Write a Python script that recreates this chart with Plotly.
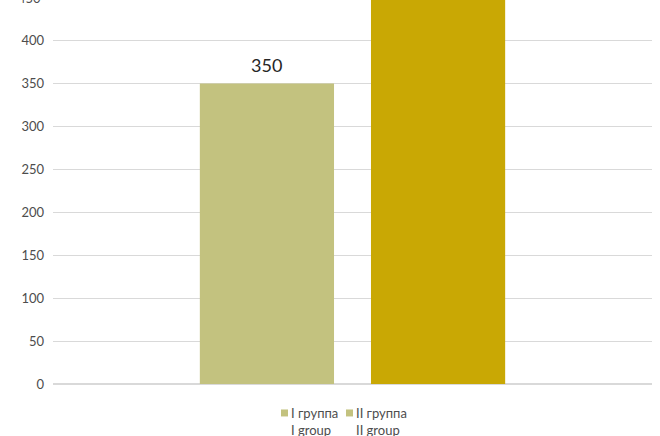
import plotly.graph_objects as go

categories = ["I группа", "II группа"]
legend_labels = ["I группа<br>I group", "II группа<br>II group"]
values = [350, 490]
bar_colors = ["#C3C27F", "#C9A804"]
legend_color = "#C3C27F"
y_ticks = [0, 50, 100, 150, 200, 250, 300, 350, 400, 450]

FONT = "Lato, Calibri, Carlito, sans-serif"
TXT = "#4D4D4D"

fig = go.Figure()
fig.add_trace(go.Bar(
    x=categories, y=values,
    marker=dict(color=bar_colors, line=dict(width=0)),
    width=0.784, showlegend=False, hoverinfo="skip",
))

# value label for the visible bar
fig.add_annotation(x=categories[0], y=values[0], text=str(values[0]),
                   showarrow=False, yanchor="bottom", yshift=5,
                   font=dict(family=FONT, size=18, color="#262626"))

# partially visible top tick label (beyond the visible range)
fig.add_annotation(xref="paper", yref="paper", x=0, y=1.0065, text=str(y_ticks[-1]),
                   showarrow=False, xanchor="right", yanchor="middle", xshift=-10,
                   font=dict(family=FONT, size=13, color=TXT))

# custom legend (symbol aligned with first text line)
leg_x = [281, 346]
for lx, lab in zip(leg_x, legend_labels):
    fig.add_shape(type="rect", xref="paper", yref="paper",
                  x0=(lx - 53) / 599, x1=(lx + 7 - 53) / 599,
                  y0=(384.5 - 417) / 384.5, y1=(384.5 - 410) / 384.5,
                  fillcolor=legend_color, line=dict(width=0))
    fig.add_annotation(xref="paper", yref="paper",
                       x=(lx + 8 - 53) / 599, y=(384.5 - 404) / 384.5,
                       text=lab, showarrow=False, xanchor="left", yanchor="top",
                       align="left",
                       font=dict(family=FONT, size=13, color=TXT))

fig.update_layout(
    width=660, height=436,
    margin=dict(l=53, r=8, t=0, b=51.5),
    paper_bgcolor="white", plot_bgcolor="white",
    showlegend=False,
    font=dict(family=FONT, size=13, color=TXT),
    xaxis=dict(range=[-1.25, 2.25], showticklabels=False, showgrid=False,
               zeroline=False, showline=False, ticks=""),
    yaxis=dict(range=[0, 447.1], tickvals=y_ticks, showgrid=True,
               gridcolor="#D9D9D9", gridwidth=1, zeroline=True,
               zerolinecolor="#D9D9D9", zerolinewidth=1.5, ticks="",
               ticklabelstandoff=8,
               tickfont=dict(family=FONT, size=13, color=TXT)),
)

fig.write_html("out.html")
